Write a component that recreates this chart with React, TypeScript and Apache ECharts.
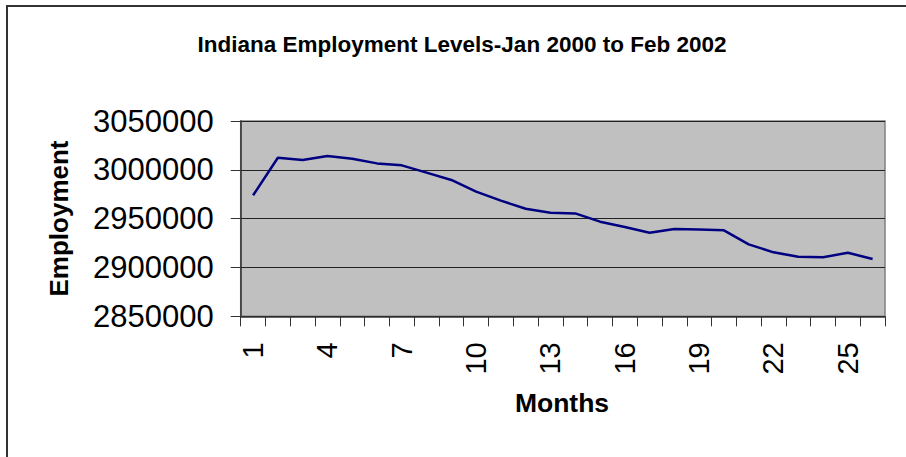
import React, { useEffect, useRef } from "react";
import * as echarts from "echarts";

const months = ["1", "2", "3", "4", "5", "6", "7", "8", "9", "10", "11", "12", "13", "14", "15", "16", "17", "18", "19", "20", "21", "22", "23", "24", "25", "26"];
const employment = [
  2973900, 3012400, 3010100, 3014100, 3011400, 3006600, 3004600, 2997100, 2989600, 2977600,
  2968400, 2960200, 2956100, 2955400, 2946900, 2941400, 2935600, 2939400, 2939000, 2938000,
  2923700, 2915500, 2911000, 2910400, 2915100, 2908700,
];
const titleText = "Indiana Employment Levels-Jan 2000 to Feb 2002";
const yName = "Employment";
const xName = "Months";

const FONT = "'Liberation Sans', Arial, sans-serif";

export default function App() {
  const ref = useRef<HTMLDivElement>(null);
  useEffect(() => {
    if (!ref.current) return;
    const chart = echarts.init(ref.current, null, { renderer: "svg" });
    chart.setOption({
      animation: false,
      backgroundColor: "#ffffff",
      title: {
        text: titleText,
        left: 462,
        top: 33,
        textAlign: "center",
        padding: 0,
        textStyle: { fontFamily: FONT, fontWeight: "bold", fontSize: 22.5, color: "#000" },
      },
      graphic: [
        {
          type: "rect",
          shape: { x: 7, y: 6, width: 920, height: 470 },
          style: { fill: "none", stroke: "#333", lineWidth: 2 },
          silent: true,
        },
        {
          type: "text",
          x: 59,
          y: 218.5,
          rotation: Math.PI / 2,
          style: {
            text: yName,
            fontFamily: FONT,
            fontWeight: "bold",
            fontSize: 26,
            fill: "#000",
            textAlign: "center",
            textVerticalAlign: "middle",
          },
        },
        {
          type: "text",
          x: 562,
          y: 403,
          style: {
            text: xName,
            fontFamily: FONT,
            fontWeight: "bold",
            fontSize: 26.5,
            fill: "#000",
            textAlign: "center",
            textVerticalAlign: "middle",
          },
        },
      ],
      grid: {
        left: 240.7,
        right: 21,
        top: 121,
        bottom: 140.7,
        show: true,
        backgroundColor: "#C0C0C0",
        borderColor: "#808080",
        borderWidth: 1.5,
      },
      xAxis: {
        type: "category",
        data: months,
        boundaryGap: true,
        axisLine: { lineStyle: { color: "#333", width: 1.5 } },
        axisTick: { show: true, interval: 0, length: 10, lineStyle: { color: "#333", width: 1 } },
        axisLabel: {
          interval: 2,
          rotate: 90,
          margin: 26,
          fontFamily: FONT,
          fontSize: 29,
          color: "#000",
        },
        splitLine: { show: false },
      },
      yAxis: {
        type: "value",
        min: 2850000,
        max: 3050000,
        interval: 50000,
        axisLine: { show: true, lineStyle: { color: "#333", width: 1.5 } },
        axisTick: { show: true, length: 10, lineStyle: { color: "#333", width: 1 } },
        axisLabel: {
          margin: 27,
          fontFamily: FONT,
          fontSize: 31,
          color: "#000",
          formatter: (v: number) => String(v),
        },
        splitLine: { show: true, lineStyle: { color: "#222", width: 1 } },
      },
      series: [
        {
          type: "line",
          data: employment,
          showSymbol: false,
          symbol: "none",
          lineStyle: { color: "#000080", width: 2.5 },
          itemStyle: { color: "#000080" },
        },
      ],
    });
    return () => chart.dispose();
  }, []);
  return (
    <div
      ref={ref}
      style={{ position: "absolute", left: 0, top: 0, width: 906, height: 457 }}
    />
  );
}
